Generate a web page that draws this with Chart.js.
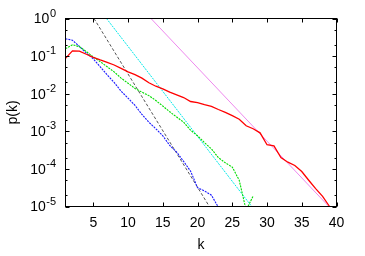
<!DOCTYPE html>
<html><head><meta charset="utf-8">
<script src="https://cdn.jsdelivr.net/npm/chart.js@4.4.0/dist/chart.umd.min.js"></script>
<style>html,body{margin:0;padding:0;background:#fff;}#wrap{width:365px;height:256px;}</style>
</head><body><div id="wrap"><canvas id="c" width="365" height="256"></canvas></div>
<script>
// ---- data ----
const kRed = [1,2,3,4,5,6,7,8,9,10,11,12,13,14,15,16,17,18,19,20,21,22,23,24,25,26,27,28,29,30,31,32,33,34,35,36,37,38,39];
const pRed = [0.087,0.138,0.135,0.112,0.093,0.079,0.068,0.058,0.047,0.038,0.032,0.026,0.0195,0.0158,0.0135,0.011,0.0093,0.0079,0.0062,0.0058,0.0051,0.0046,0.0038,0.0032,0.0026,0.0021,0.0014,0.00117,0.00091,0.00044,0.00041,0.0002,0.000151,0.000123,0.000085,0.00005,0.00003,0.0000186,0.00001];
const kGreen = [1,2,3,4,5,6,7,8,9,10,11,12,13,14,15,16,17,18,19,20,21,22,23,24,25,26,27,28];
const pGreen = [0.158,0.20,0.178,0.132,0.095,0.071,0.052,0.038,0.026,0.019,0.0138,0.011,0.0089,0.0066,0.0047,0.0033,0.0024,0.00174,0.00107,0.00076,0.0005,0.00034,0.0002,0.000145,0.000112,0.00005,0.0000079,0.000019];
const kBlue = [1,2,3,4,5,6,7,8,9,10,11,12,13,14,15,16,17,18,19,20,21,22,23];
const pBlue = [0.29,0.263,0.182,0.12,0.085,0.052,0.0316,0.02,0.0117,0.0076,0.0049,0.0028,0.00174,0.00117,0.00076,0.00042,0.00028,0.000158,0.000087,0.0000316,0.000026,0.00002,0.0000095];
const kCyan = [6.9,27.8];
const pCyan = [1,0.00001];
const kBlack = [5.1,21.7];
const pBlack = [1,0.00001];
const kMagenta = [13.3,38.9];
const pMagenta = [1,0.00001];

const xTicks = [5,10,15,20,25,30,35,40];
const yTicks = [1,0.1,0.01,0.001,0.0001,0.00001];
const yTickExp = ['0','-1','-2','-3','-4','-5'];
const yMinor = [0.5,0.2,0.05,0.02,0.005,0.002,0.0005,0.0002,0.00005,0.00002];

const FONT = '"Liberation Sans", Arial, sans-serif';
const pts = (ks, ps) => ks.map((k, i) => ({x: k, y: ps[i]}));

const framePlugin = {
  id: 'frame',
  afterDraw(chart) {
    const {ctx, chartArea: a, scales: {x, y}} = chart;
    ctx.save();
    ctx.strokeStyle = '#000';
    ctx.lineWidth = 1;
    ctx.beginPath();
    xTicks.forEach(v => {
      const px = Math.round(x.getPixelForValue(v)) + 0.5;
      ctx.moveTo(px, a.bottom); ctx.lineTo(px, a.bottom - 4);
      ctx.moveTo(px, a.top); ctx.lineTo(px, a.top + 4);
    });
    yTicks.forEach(v => {
      const py = Math.round(y.getPixelForValue(v)) + 0.5;
      ctx.moveTo(a.left, py); ctx.lineTo(a.left + 4, py);
      ctx.moveTo(a.right, py); ctx.lineTo(a.right - 4, py);
    });
    yMinor.forEach(v => {
      const py = Math.round(y.getPixelForValue(v)) + 0.5;
      ctx.moveTo(a.left, py); ctx.lineTo(a.left + 2, py);
      ctx.moveTo(a.right, py); ctx.lineTo(a.right - 2, py);
    });
    ctx.stroke();
    ctx.strokeRect(a.left, a.top, a.right - a.left, a.bottom - a.top);
    // y tick labels 10^n
    ctx.fillStyle = '#000';
    ctx.textBaseline = 'middle';
    yTicks.forEach((v, i) => {
      const py = y.getPixelForValue(v);
      const right = 56;
      ctx.font = '11px ' + FONT;
      const w = ctx.measureText(yTickExp[i]).width;
      ctx.textAlign = 'left';
      ctx.fillText(yTickExp[i], right - w, py - 5);
      ctx.font = '14px ' + FONT;
      ctx.textAlign = 'right';
      ctx.fillText('10', right - w - 0.5, py + 1);
    });
    ctx.restore();
  }
};

new Chart(document.getElementById('c'), {
  type: 'line',
  data: {
    datasets: [
      {data: pts(kRed, pRed), borderColor: '#ff0000', borderWidth: 1.3},
      {data: pts(kGreen, pGreen), borderColor: '#00dd00', borderWidth: 1.1, borderDash: [2, 1]},
      {data: pts(kBlue, pBlue), borderColor: '#1a1aff', borderWidth: 1.1, borderDash: [2, 1]},
      {data: pts(kMagenta, pMagenta), borderColor: '#ee88ee', borderWidth: 1},
      {data: pts(kCyan, pCyan), borderColor: '#00e8e8', borderWidth: 1, borderDash: [2, 1]},
      {data: pts(kBlack, pBlack), borderColor: '#555555', borderWidth: 1, borderDash: [3, 2]}
    ]
  },
  options: {
    responsive: false, animation: false, devicePixelRatio: 1,
    layout: {padding: {top: 18.5, right: 28.5, left: 0, bottom: 0}},
    plugins: {legend: {display: false}, tooltip: {enabled: false}},
    elements: {point: {radius: 0}, line: {tension: 0, fill: false}},
    scales: {
      x: {
        type: 'linear', min: 1, max: 40,
        grid: {display: false, drawTicks: false}, border: {display: false},
        afterBuildTicks: s => { s.ticks = xTicks.map(v => ({value: v})); },
        afterFit: s => { s.height = 49.5; },
        ticks: {padding: 8, color: '#000', font: {family: FONT, size: 14}, maxRotation: 0, autoSkip: false},
        title: {display: true, text: 'k', color: '#000', font: {family: FONT, size: 14}, padding: {top: 0, bottom: 2}}
      },
      y: {
        type: 'logarithmic', min: 0.00001, max: 1,
        grid: {display: false, drawTicks: false}, border: {display: false},
        afterBuildTicks: s => { s.ticks = yTicks.map(v => ({value: v})); },
        afterFit: s => { s.width = 65.5; },
        ticks: {display: false},
        title: {display: true, text: 'p(k)', color: '#000', font: {family: FONT, size: 14}, padding: {top: 5, bottom: 0}}
      }
    }
  },
  plugins: [framePlugin]
});
</script>
</body></html>
